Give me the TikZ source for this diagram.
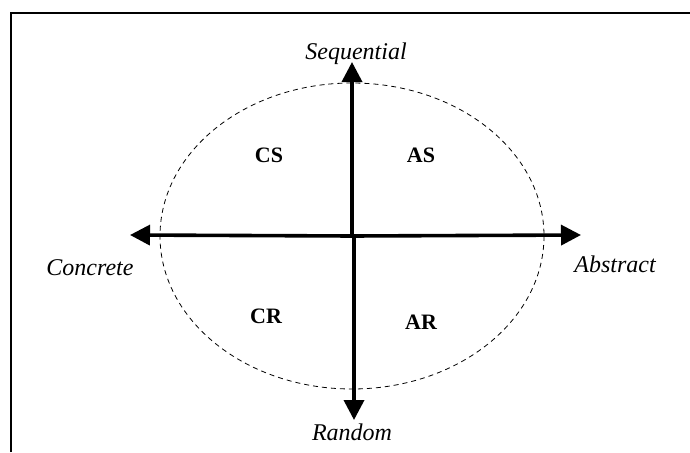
\documentclass[tikz,border=0pt]{standalone}
\usepackage{fontspec}
\setmainfont{Liberation Serif}
\usetikzlibrary{arrows.meta}
\begin{document}
\begin{tikzpicture}[x=1pt,y=-1pt,
  axis/.style={line width=3.6pt,-{Triangle[length=20pt,width=20pt]}},
  dir/.style={font=\fontsize{24}{26}\selectfont\itshape},
  quad/.style={font=\fontsize{22}{24}\selectfont\bfseries}]
\useasboundingbox (0,0) rectangle (690,452);
\draw[line width=2pt] (11,452) -- (11,13) -- (690,13);
\draw[dashed, line width=0.8pt, dash pattern=on 5pt off 4pt] (352,236) ellipse [x radius=192, y radius=153];
\coordinate (c) at (352,236);
\coordinate (cl) at (354,236);
\node[dir] (seq) at (356,54) {Sequential};
\node[dir] (ran) at (352,432) {Random};
\node[dir] (con) at (90,268) {Concrete};
\node[dir] (abs) at (615,264) {Abstract};
\coordinate (tt) at (352,62);
\coordinate (bt) at (354,420);
\coordinate (lt) at (130,235);
\coordinate (rt) at (581,235);
\draw[axis] (c) -- (tt);
\draw[axis] (cl) -- (bt);
\draw[axis] (c) -- (lt);
\draw[axis] (c) -- (rt);
\node[quad] (cs) at (269,155) {CS};
\node[quad] (as) at (421,155) {AS};
\node[quad] (cr) at (266,316) {CR};
\node[quad] (ar) at (421,322) {AR};
\end{tikzpicture}
\end{document}
